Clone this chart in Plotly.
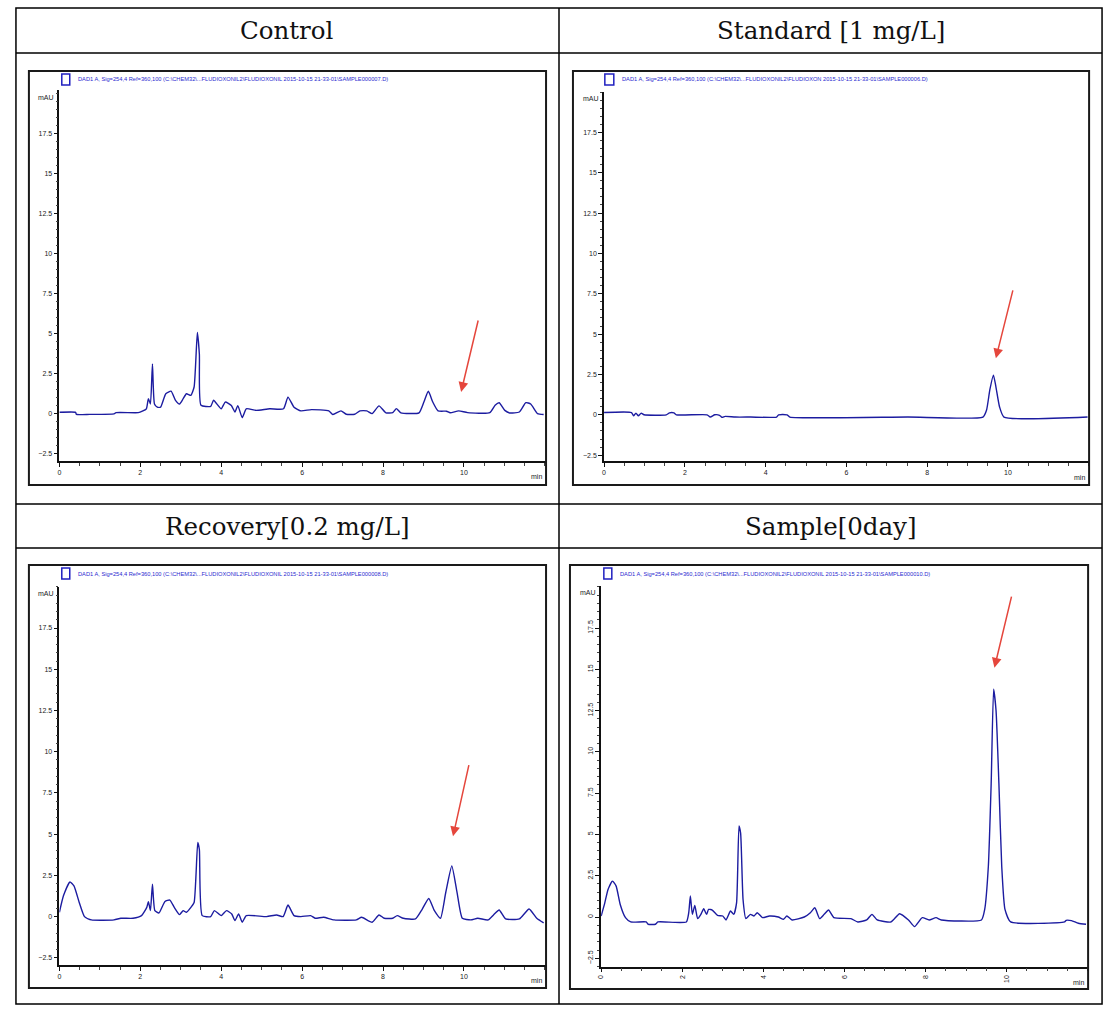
import plotly.graph_objects as go

W, H = 1116, 1018

# ---------------- data ----------------
panel_titles = ["Control", "Standard [1 mg/L]", "Recovery[0.2 mg/L]", "Sample[0day]"]

legend_texts = [
    "DAD1 A, Sig=254,4 Ref=360,100 (C:\\CHEM32\\...FLUDIOXONIL2\\FLUDIOXONIL 2015-10-15 21-33-01\\SAMPLE000007.D)",
    "DAD1 A, Sig=254,4 Ref=360,100 (C:\\CHEM32\\...FLUDIOXONIL2\\FLUDIOXON 2015-10-15 21-33-01\\SAMPLE000006.D)",
    "DAD1 A, Sig=254,4 Ref=360,100 (C:\\CHEM32\\...FLUDIOXONIL2\\FLUDIOXONIL 2015-10-15 21-33-01\\SAMPLE000008.D)",
    "DAD1 A, Sig=254,4 Ref=360,100 (C:\\CHEM32\\...FLUDIOXONIL2\\FLUDIOXONIL 2015-10-15 21-33-01\\SAMPLE000010.D)",
]

control_time = [0, 0.4, 0.42, 0.75, 1.35, 1.4, 1.95, 2.05, 2.15, 2.2, 2.25, 2.3, 2.35, 2.42, 2.5,
                2.63, 2.76, 2.87, 2.97, 3.06, 3.14, 3.25, 3.33, 3.41, 3.46, 3.5, 3.74, 3.81, 4.0,
                4.1, 4.25, 4.34, 4.41, 4.52, 4.62, 4.86, 5.2, 5.54, 5.65, 5.8, 5.97, 6.23, 6.66,
                6.76, 6.96, 7.09, 7.3, 7.43, 7.6, 7.73, 7.9, 8.07, 8.24, 8.33, 8.44, 8.89, 9.01,
                9.12, 9.23, 9.36, 9.57, 9.66, 9.87, 10.09, 10.64, 10.77, 10.87, 11.01, 11.13,
                11.37, 11.53, 11.65, 11.82, 11.97]
control_mAU = [0.08, 0.08, -0.05, -0.05, -0.02, 0.06, 0.06, 0.15, 0.3, 0.93, 0.6, 3.1, 0.6, 0.4, 0.4,
               1.24, 1.4, 0.83, 0.6, 0.93, 1.24, 1.14, 1.66, 5.07, 3.7, 0.52, 0.45, 0.83, 0.3,
               0.72, 0.5, 0.1, 0.5, -0.25, 0.3, 0.2, 0.3, 0.3, 1.03, 0.4, 0.17, 0.25, 0.17,
               -0.06, 0.17, -0.04, -0.04, 0.17, 0.17, 0.0, 0.48, 0.05, 0.06, 0.31, 0.05, 0.05, 0.72,
               1.39, 0.72, 0.17, 0.15, 0.05, 0.17, 0.06, 0.06, 0.52, 0.68, 0.2, 0.04,
               0.1, 0.68, 0.6, 0.0, -0.06]

standard_time = [0, 0.68, 0.73, 0.79, 0.85, 0.92, 0.99, 1.54, 1.62, 1.73, 1.79, 2.55, 2.63, 2.74,
                 2.86, 2.92, 3.0, 3.25, 3.63, 4.27, 4.32, 4.53, 4.6, 7.52, 9.38, 9.47, 9.55,
                 9.64, 9.7, 9.79, 9.9, 11.97]
standard_mAU = [0.14, 0.14, -0.06, 0.1, -0.06, 0.1, 0.0, 0.0, 0.12, 0.12, 0.0, 0.0, -0.14, 0.0,
                -0.03, -0.16, -0.1, -0.14, -0.14, -0.14, 0.0, 0.0, -0.14, -0.14, -0.14, 0.3, 1.54,
                2.46, 1.75, 0.5, -0.14, -0.14]

recovery_time = [0, 0.1, 0.26, 0.36, 0.49, 0.62, 0.79, 1.35, 1.52, 1.82, 2.03, 2.16, 2.2, 2.25,
                 2.3, 2.36, 2.46, 2.61, 2.73, 2.84, 2.97, 3.06, 3.14, 3.25, 3.33, 3.42, 3.46,
                 3.53, 3.74, 3.83, 4.0, 4.13, 4.26, 4.34, 4.43, 4.52, 4.62, 5.12, 5.37, 5.53,
                 5.65, 5.8, 5.97, 6.21, 6.32, 6.53, 6.79, 7.34, 7.47, 7.73, 7.9, 8.03, 8.24,
                 8.35, 8.5, 8.8, 8.97, 9.13, 9.27, 9.42, 9.55, 9.7, 9.83, 9.96, 10.17, 10.34,
                 10.6, 10.73, 10.87, 11.03, 11.37, 11.61, 11.8, 11.97]
recovery_mAU = [0.26, 1.26, 2.1, 1.86, 0.86, 0.0, -0.2, -0.2, -0.1, -0.1, 0.06, 0.56, 0.9, 0.36,
                1.96, 0.36, 0.22, 0.92, 1.0, 0.56, 0.12, 0.36, 0.26, 0.56, 0.86, 4.5, 4.07,
                0.06, 0.0, 0.36, 0.06, 0.36, 0.16, -0.24, 0.16, -0.34, 0.06, 0.0, 0.1, 0.0,
                0.7, 0.06, 0.0, 0.06, -0.1, -0.04, -0.2, -0.2, -0.04, -0.34, 0.1, -0.1, -0.1,
                0.06, -0.1, -0.14, 0.46, 1.1, 0.36, -0.1, 1.46, 3.07, 1.46, -0.1, -0.2, -0.1,
                -0.2, 0.1, 0.4, -0.14, -0.14, 0.46, -0.1, -0.38]

sample_time = [0, 0.09, 0.17, 0.28, 0.37, 0.47, 0.6, 0.73, 1.11, 1.16, 1.34, 1.4, 2.1, 2.16, 2.2,
               2.25, 2.31, 2.38, 2.46, 2.53, 2.6, 2.65, 2.74, 2.87, 3.0, 3.08, 3.19, 3.27, 3.34,
               3.4, 3.44, 3.5, 3.57, 3.68, 3.77, 3.85, 3.98, 4.15, 4.37, 4.5, 4.58, 4.71, 5.01,
               5.16, 5.27, 5.39, 5.5, 5.61, 5.74, 6.16, 6.33, 6.55, 6.68, 6.81, 7.15, 7.36,
               7.58, 7.73, 7.92, 8.09, 8.26, 8.39, 9.38, 9.46, 9.55, 9.62, 9.68, 9.74, 9.81,
               9.88, 9.96, 10.1, 11.43, 11.47, 11.6, 11.77, 11.96]
sample_mAU = [0.06, 0.86, 1.67, 2.17, 1.87, 0.76, -0.04, -0.3, -0.3, -0.44, -0.44, -0.3, -0.3, 0.26,
              1.27, 0.16, 0.7, -0.1, 0.16, 0.5, 0.16, 0.46, 0.42, 0.1, 0.06, -0.18, 0.36, 0.16,
              0.86, 5.52, 5.08, 1.06, -0.1, 0.16, 0.06, 0.26, -0.04, 0.06, 0.0, -0.14, 0.06,
              -0.18, 0.0, 0.26, 0.56, -0.1, 0.16, 0.42, -0.04, -0.1, -0.3, -0.18, 0.16, -0.18,
              -0.3, 0.2, -0.18, -0.58, -0.04, -0.18, -0.04, -0.18, -0.18, 0.46, 3.07, 8.1,
              13.8, 12.5, 8.1, 3.07, 0.46, -0.3, -0.3, -0.2, -0.22, -0.38, -0.44]

y_tick_values = [-2.5, 0, 2.5, 5, 7.5, 10, 12.5, 15, 17.5]
x_tick_values = [0, 2, 4, 6, 8, 10]

series_time = [control_time, standard_time, recovery_time, sample_time]
series_mAU = [control_mAU, standard_mAU, recovery_mAU, sample_mAU]

# ---------------- layout geometry (pixels) ----------------
panels = [
    dict(frame=(25, 71, 544, 485), x0=55.6, x1=544, ybot=460.8, ytop=90, zero=413.6, ppu=16.03, ppm=40.6,
         sq=(58, 74, 66, 85), arrow=(9.93, 1.35, 10.36, 5.9), rot=0),
    dict(frame=(571, 71, 1089, 485), x0=602.2, x1=1089, ybot=461.2, ytop=91.9, zero=414.8, ppu=16.14, ppm=40.54,
         sq=(603, 74, 612, 85), arrow=(9.7, 3.5, 10.13, 7.8), rot=0),
    dict(frame=(25, 565, 544, 988), x0=55.6, x1=544, ybot=964.8, ytop=586.6, zero=916.6, ppu=16.49, ppm=40.6,
         sq=(58, 568, 66, 579), arrow=(9.73, 4.87, 10.13, 9.28), rot=0),
    dict(frame=(568, 565, 1088, 989), x0=599.3, x1=1088, ybot=966.5, ytop=585.9, zero=917.0, ppu=16.51, ppm=40.69,
         sq=(602, 568, 610, 579), arrow=(9.7, 15.1, 10.13, 19.5), rot=-90),
]


def px(x):
    return x / W


def py(y):
    return 1 - y / H


fig = go.Figure()
shapes = []
annotations = []
line_col = "#1c1ca0"
axis_col = "#111111"
tick_font = dict(family="Liberation Sans, Arial, sans-serif", size=7, color="#222222")

for i, p in enumerate(panels):
    n = "" if i == 0 else str(i + 1)
    xa, ya = "x" + n, "y" + n
    fig.add_trace(go.Scatter(x=series_time[i], y=series_mAU[i], mode="lines",
                             line=dict(color=line_col, width=1.4, shape="spline", smoothing=0.5),
                             xaxis=xa, yaxis=ya, showlegend=False, hoverinfo="skip"))
    xmax = (p["x1"] - p["x0"]) / p["ppm"]
    ymin = (p["zero"] - p["ybot"]) / p["ppu"]
    ymax = (p["zero"] - p["ytop"]) / p["ppu"]
    fig.update_layout(**{
        "xaxis" + n: dict(domain=[px(p["x0"]), px(p["x1"])], range=[0, xmax], anchor=ya,
                          showline=True, linecolor=axis_col, linewidth=1.6, showgrid=False, zeroline=False,
                          tickmode="array", tickvals=x_tick_values, ticks="outside", ticklen=4,
                          tickcolor=axis_col, tickfont=tick_font, tickangle=p["rot"],
                          minor=dict(tickmode="linear", tick0=0, dtick=0.5, ticks="outside", ticklen=3,
                                     tickcolor="#444444", showgrid=False),
                          fixedrange=True),
        "yaxis" + n: dict(domain=[py(p["ybot"]), py(p["ytop"])], range=[ymin, ymax], anchor=xa,
                          showline=True, linecolor=axis_col, linewidth=1.6, showgrid=False, zeroline=False,
                          tickmode="array", tickvals=y_tick_values, ticks="outside", ticklen=4,
                          tickcolor=axis_col, tickfont=tick_font, tickangle=p["rot"],
                          minor=dict(tickmode="linear", tick0=0, dtick=0.5, ticks="outside", ticklen=2,
                                     tickcolor="#444444", showgrid=False),
                          fixedrange=True),
    })
    fx0, fy0, fx1, fy1 = p["frame"]
    shapes.append(dict(type="rect", xref="paper", yref="paper", x0=px(fx0), x1=px(fx1), y0=py(fy1), y1=py(fy0),
                       line=dict(color="#1a1a1a", width=2)))
    sx0, sy0, sx1, sy1 = p["sq"]
    shapes.append(dict(type="rect", xref="paper", yref="paper", x0=px(sx0), x1=px(sx1), y0=py(sy1), y1=py(sy0),
                       line=dict(color="#2020c0", width=1.5)))
    annotations.append(dict(xref="paper", yref="paper", x=px(sx1 + 6), y=py((sy0 + sy1) / 2), xanchor="left",
                            yanchor="middle", showarrow=False, text=legend_texts[i],
                            font=dict(family="Liberation Sans, sans-serif", size=5.7, color="#2a2ad0")))
    annotations.append(dict(xref="paper", yref="paper", x=px(p["x0"] - 3), y=py(p["ytop"] + 7), xanchor="right",
                            yanchor="middle", showarrow=False, text="mAU", font=tick_font))
    annotations.append(dict(xref="paper", yref="paper", x=px(fx1 - 2), y=py(p["ybot"] + 16), xanchor="right",
                            yanchor="middle", showarrow=False, text="min", font=tick_font))
    hx, hy, tx, ty = p["arrow"]
    annotations.append(dict(xref=xa, yref=ya, x=hx, y=hy, axref=xa, ayref=ya, ax=tx, ay=ty, text="",
                            showarrow=True, arrowhead=2, arrowsize=1.3, arrowwidth=1.5, arrowcolor="#e5463c"))

# table grid
tbl = dict(color="#000000", width=1.5)
shapes.append(dict(type="rect", xref="paper", yref="paper", x0=px(12), x1=px(1102), y0=py(1004), y1=py(8), line=tbl))
for yy in (53, 504, 548):
    shapes.append(dict(type="line", xref="paper", yref="paper", x0=px(12), x1=px(1102), y0=py(yy), y1=py(yy), line=tbl))
shapes.append(dict(type="line", xref="paper", yref="paper", x0=px(557), x1=px(557), y0=py(1004), y1=py(8), line=tbl))

title_pos = [(284.5, 31), (829.5, 31), (284.5, 526), (829.5, 526)]
for (tx, ty), t in zip(title_pos, panel_titles):
    annotations.append(dict(xref="paper", yref="paper", x=px(tx), y=py(ty), xanchor="center", yanchor="middle",
                            showarrow=False, text=t,
                            font=dict(family="DejaVu Serif, Liberation Serif, serif", size=24.5, color="#111111")))

fig.update_layout(width=W, height=H, margin=dict(l=0, r=0, t=0, b=0), paper_bgcolor="white",
                  plot_bgcolor="white", shapes=shapes, annotations=annotations, showlegend=False)

fig.write_html("out.html")
